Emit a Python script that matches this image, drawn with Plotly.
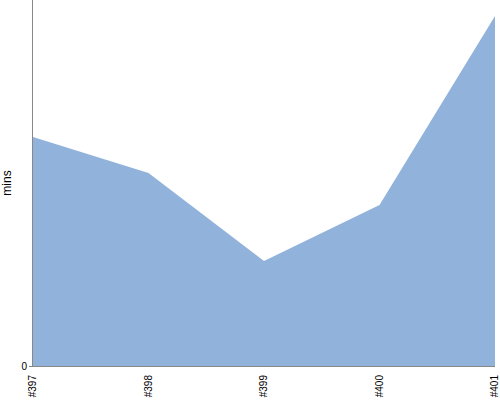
import plotly.graph_objects as go

categories = ["#397", "#398", "#399", "#400", "#401"]
mins = [22.9, 19.3, 10.5, 16.1, 35.0]

fig = go.Figure()
fig.add_trace(go.Scatter(
    x=categories, y=mins, mode="lines", fill="tozeroy",
    line=dict(color="#91b3db", width=0), fillcolor="#91b3db",
    hoverinfo="x+y",
))
fig.update_layout(
    width=500, height=400,
    margin=dict(l=33, r=5, t=0, b=34, pad=0),
    paper_bgcolor="white", plot_bgcolor="white",
    showlegend=False,
    font=dict(family="Liberation Sans, Arial, sans-serif", size=10, color="black"),
)
fig.update_xaxes(
    type="category", range=[0, 4], tickangle=-90, automargin=False,
    ticklabeloverflow="allow",
    showgrid=False, showline=True, linecolor="#888888", linewidth=1,
    ticks="outside", ticklen=4, tickcolor="rgba(0,0,0,0)", zeroline=False,
    tickfont=dict(size=10),
)
fig.update_yaxes(
    range=[0, 36.6], tickvals=[0], ticktext=["0"], automargin=False,
    showgrid=False, showline=True, linecolor="#888888", linewidth=1,
    ticks="outside", ticklen=3, tickcolor="#888888", zeroline=False,
    title=dict(text="mins", font=dict(size=12), standoff=8),
    tickfont=dict(size=10),
)
fig.write_html(
    "out.html",
    config={"displayModeBar": False},
    post_script="document.body.style.margin='0';document.body.style.overflow='hidden';",
)
